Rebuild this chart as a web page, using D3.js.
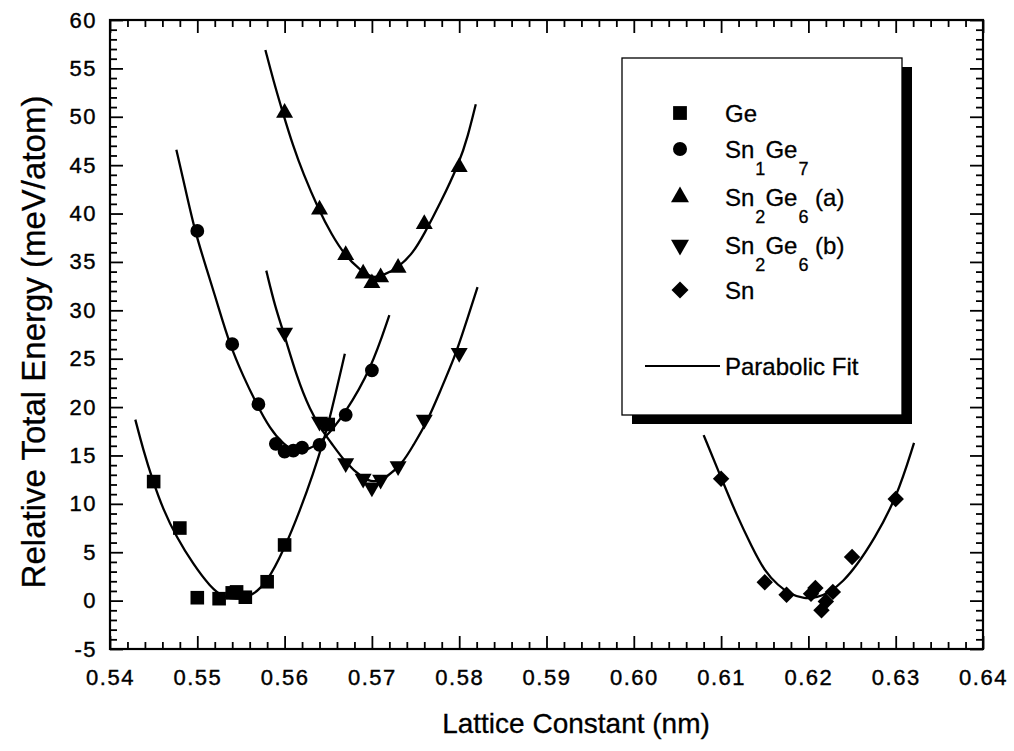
<!DOCTYPE html>
<html>
<head>
<meta charset="utf-8">
<script src="https://cdn.jsdelivr.net/npm/d3@7"></script>
<style>
  html, body { margin: 0; padding: 0; background: #fff; }
  svg { display: block; }
  text { font-family: "Liberation Sans", Arial, Helvetica, sans-serif; fill: #000; }
</style>
</head>
<body>
<svg id="chart" width="1014" height="751"></svg>
<script>
// ---------- data ----------
const xTickValues = [0.54, 0.55, 0.56, 0.57, 0.58, 0.59, 0.60, 0.61, 0.62, 0.63, 0.64];
const xTickLabels = ["0.54", "0.55", "0.56", "0.57", "0.58", "0.59", "0.60", "0.61", "0.62", "0.63", "0.64"];
const yTickValues = [-5, 0, 5, 10, 15, 20, 25, 30, 35, 40, 45, 50, 55, 60];
const yTickLabels = ["-5", "0", "5", "10", "15", "20", "25", "30", "35", "40", "45", "50", "55", "60"];

const seriesNames = ["Ge", "Sn1Ge7", "Sn2Ge6 (a)", "Sn2Ge6 (b)", "Sn"];

const geX = [0.545, 0.548, 0.550, 0.5525, 0.554, 0.5545, 0.5555, 0.558, 0.560, 0.565];
const geY = [12.3, 7.5, 0.3, 0.2, 0.8, 0.9, 0.35, 1.95, 5.75, 18.2];

const sn1ge7X = [0.550, 0.554, 0.557, 0.559, 0.560, 0.561, 0.562, 0.564, 0.567, 0.570];
const sn1ge7Y = [38.2, 26.5, 20.3, 16.2, 15.4, 15.5, 15.8, 16.1, 19.2, 23.8];

const sn2ge6aX = [0.560, 0.564, 0.567, 0.569, 0.570, 0.571, 0.573, 0.576, 0.580];
const sn2ge6aY = [50.4, 40.4, 35.7, 33.8, 32.8, 33.4, 34.4, 38.9, 44.8];

const sn2ge6bX = [0.560, 0.564, 0.567, 0.569, 0.570, 0.571, 0.573, 0.576, 0.580];
const sn2ge6bY = [27.7, 18.5, 14.2, 12.6, 11.7, 12.5, 13.9, 18.7, 25.6];

const snX = [0.610, 0.615, 0.6175, 0.6203, 0.6208, 0.6215, 0.622, 0.6228, 0.625, 0.630];
const snY = [12.6, 1.9, 0.6, 0.7, 1.3, -1.0, -0.1, 0.9, 4.5, 10.5];

// parabolic-fit curves, points
const geFit = [[0.5429,18.7],[0.5438,15.6],[0.5449,12.4],[0.5461,9.4],[0.5476,6.6],[0.5495,3.8],[0.5515,1.4],[0.5530,0.3],[0.5549,0.1],[0.5564,0.6],[0.5580,1.9],[0.5599,5.2],[0.5618,9.4],[0.5633,13.2],[0.5644,16.3],[0.5652,18.9],[0.5669,25.5]];
const sn1ge7Fit = [[0.5476,46.6],[0.5484,43.5],[0.5497,38.2],[0.5511,34.2],[0.5524,30.4],[0.5537,26.5],[0.5553,23.1],[0.5568,20.3],[0.5583,17.8],[0.5599,16.1],[0.5612,15.4],[0.5628,15.6],[0.5645,16.6],[0.5669,19.3],[0.5699,23.9],[0.5720,29.5]];
const sn2ge6aFit = [[0.5578,56.9],[0.5587,53.8],[0.5598,50.4],[0.5610,46.9],[0.5621,44.2],[0.5639,40.4],[0.5654,37.8],[0.5669,35.7],[0.5686,34.2],[0.5700,33.3],[0.5713,33.6],[0.5730,34.4],[0.5747,35.9],[0.5760,37.9],[0.5778,41.0],[0.5800,45.2],[0.5810,48.0],[0.5819,51.3]];
const sn2ge6bFit = [[0.5579,34.1],[0.5589,30.4],[0.5599,27.7],[0.5614,23.1],[0.5629,19.7],[0.5644,17.4],[0.5652,16.5],[0.5670,14.2],[0.5690,12.6],[0.5702,12.2],[0.5717,12.7],[0.5736,14.3],[0.5747,16.0],[0.5763,18.4],[0.5778,21.6],[0.5795,25.2],[0.5805,27.9],[0.5821,32.4]];
const snFit = [[0.6080,17.1],[0.6101,12.5],[0.6118,8.8],[0.6135,5.6],[0.6150,3.0],[0.6165,1.6],[0.6180,0.6],[0.6195,0.2],[0.6210,0.3],[0.6225,0.9],[0.6240,2.0],[0.6255,3.6],[0.6275,6.3],[0.6301,10.6],[0.6321,16.3]];

// ---------- layout ----------
const svg = d3.select("#chart");
const L = 110, R = 983, T = 20, B = 649;
const x = d3.scaleLinear().domain([0.54, 0.64]).range([L, R]);
const y = d3.scaleLinear().domain([-5, 60]).range([B, T]);

svg.append("rect").attr("width", 1014).attr("height", 751).attr("fill", "#fff");

const majorLen = 13, minorLen = 7;
const xMinor = d3.range(0, 51).filter(i => i % 5 !== 0).map(i => 0.54 + i * 0.002);
const yMinor = d3.range(-5, 61).filter(v => v % 5 !== 0);

function styleAxis(g) {
  g.select(".domain").remove();
  g.selectAll(".tick line").attr("stroke", "#000").attr("stroke-width", 1.8);
}
function styleLabels(g) {
  g.selectAll("text").attr("font-size", 22).attr("letter-spacing", "1.5px")
    .attr("font-family", "'Liberation Sans', Arial, sans-serif").attr("fill", "#000")
    .attr("stroke", "#000").attr("stroke-width", 0.4);
}

// bottom
svg.append("g").attr("transform", `translate(0,${B})`)
  .call(d3.axisBottom(x).tickValues(xTickValues).tickFormat((d, i) => xTickLabels[i])
    .tickSizeInner(-majorLen).tickSizeOuter(0).tickPadding(20))
  .call(styleAxis).call(styleLabels);
svg.append("g").attr("transform", `translate(0,${B})`)
  .call(d3.axisBottom(x).tickValues(xMinor).tickFormat("").tickSizeInner(-minorLen).tickSizeOuter(0))
  .call(styleAxis);
// top
svg.append("g").attr("transform", `translate(0,${T})`)
  .call(d3.axisTop(x).tickValues(xTickValues).tickFormat("").tickSizeInner(-majorLen).tickSizeOuter(0))
  .call(styleAxis);
svg.append("g").attr("transform", `translate(0,${T})`)
  .call(d3.axisTop(x).tickValues(xMinor).tickFormat("").tickSizeInner(-minorLen).tickSizeOuter(0))
  .call(styleAxis);
// left
svg.append("g").attr("transform", `translate(${L},0)`)
  .call(d3.axisLeft(y).tickValues(yTickValues).tickFormat((d, i) => yTickLabels[i])
    .tickSizeInner(-majorLen).tickSizeOuter(0).tickPadding(13))
  .call(styleAxis).call(styleLabels);
svg.append("g").attr("transform", `translate(${L},0)`)
  .call(d3.axisLeft(y).tickValues(yMinor).tickFormat("").tickSizeInner(-minorLen).tickSizeOuter(0))
  .call(styleAxis);
// right
svg.append("g").attr("transform", `translate(${R},0)`)
  .call(d3.axisRight(y).tickValues(yTickValues).tickFormat("").tickSizeInner(-majorLen).tickSizeOuter(0))
  .call(styleAxis);
svg.append("g").attr("transform", `translate(${R},0)`)
  .call(d3.axisRight(y).tickValues(yMinor).tickFormat("").tickSizeInner(-minorLen).tickSizeOuter(0))
  .call(styleAxis);

// frame
svg.append("rect").attr("x", L).attr("y", T).attr("width", R - L).attr("height", B - T)
  .attr("fill", "none").attr("stroke", "#000").attr("stroke-width", 2.2);

// axis titles
svg.append("text").attr("x", 576).attr("y", 733).attr("text-anchor", "middle")
  .attr("font-size", 28).attr("stroke", "#000").attr("stroke-width", 0.3)
  .text("Lattice Constant (nm)");
svg.append("text").attr("transform", `translate(45,342) rotate(-90)`)
  .attr("text-anchor", "middle").attr("font-size", 33).attr("stroke", "#000").attr("stroke-width", 0.3)
  .text("Relative Total Energy (meV/atom)");

// fit curves
const line = d3.line().x(d => x(d[0])).y(d => y(d[1])).curve(d3.curveBasis);
[geFit, sn1ge7Fit, sn2ge6aFit, sn2ge6bFit, snFit].forEach(f => {
  svg.append("path").datum(f).attr("d", line).attr("fill", "none")
    .attr("stroke", "#000").attr("stroke-width", 2.3);
});

// markers
const symbols = [
  { type: d3.symbolSquare, size: 185, rot: 0 },
  { type: d3.symbolCircle, size: 150, rot: 0 },
  { type: d3.symbolTriangle, size: 125, rot: 0 },
  { type: d3.symbolTriangle, size: 125, rot: 180 },
  { type: d3.symbolSquare, size: 135, rot: 45 }
];
const seriesX = [geX, sn1ge7X, sn2ge6aX, sn2ge6bX, snX];
const seriesY = [geY, sn1ge7Y, sn2ge6aY, sn2ge6bY, snY];
seriesX.forEach((xs, s) => {
  const sym = symbols[s];
  const pts = xs.map((v, i) => [v, seriesY[s][i]]);
  svg.append("g").selectAll("path").data(pts).join("path")
    .attr("d", d3.symbol().type(sym.type).size(sym.size))
    .attr("transform", d => `translate(${x(d[0])},${y(d[1])}) rotate(${sym.rot})`)
    .attr("fill", "#000");
});

// legend
const lg = svg.append("g");
const lx = 622, ly = 58, lw = 280, lh = 357;
lg.append("rect").attr("x", lx + 10).attr("y", ly + 9).attr("width", lw).attr("height", lh).attr("fill", "#000");
lg.append("rect").attr("x", lx).attr("y", ly).attr("width", lw).attr("height", lh)
  .attr("fill", "#fff").attr("stroke", "#000").attr("stroke-width", 1.3);
const rowsY = [113, 149, 197, 245, 290];
const legSymbols = [
  { type: d3.symbolSquare, size: 190, rot: 0 },
  { type: d3.symbolCircle, size: 155, rot: 0 },
  { type: d3.symbolTriangle, size: 140, rot: 0 },
  { type: d3.symbolTriangle, size: 140, rot: 180 },
  { type: d3.symbolSquare, size: 145, rot: 45 }
];
rowsY.forEach((ry, i) => {
  const sym = legSymbols[i];
  lg.append("path").attr("d", d3.symbol().type(sym.type).size(sym.size)())
    .attr("transform", `translate(680,${ry}) rotate(${sym.rot})`).attr("fill", "#000");
});
const legendParts = [
  [["Ge", 0]],
  [["Sn", 0], ["1", 1], ["Ge", 0], ["7", 1]],
  [["Sn", 0], ["2", 1], ["Ge", 0], ["6", 1], [" (a)", 0]],
  [["Sn", 0], ["2", 1], ["Ge", 0], ["6", 1], [" (b)", 0]],
  [["Sn", 0]]
];
legendParts.forEach((parts, i) => {
  const t = lg.append("text").attr("x", 725).attr("y", rowsY[i] + 9).attr("font-size", 24)
    .attr("stroke", "#000").attr("stroke-width", 0.3);
  let prevSub = 0;
  parts.forEach(([str, sub]) => {
    const dy = (sub - prevSub) * 17;
    const ts = t.append("tspan").attr("dy", dy).attr("font-size", sub ? 18 : 24).text(str);
    if (sub) ts.attr("dx", 1);
    prevSub = sub;
  });
});
lg.append("line").attr("x1", 645).attr("x2", 720).attr("y1", 366).attr("y2", 366)
  .attr("stroke", "#000").attr("stroke-width", 1.8);
lg.append("text").attr("x", 725).attr("y", 375).attr("font-size", 24)
  .attr("stroke", "#000").attr("stroke-width", 0.3).text("Parabolic Fit");
</script>
</body>
</html>
